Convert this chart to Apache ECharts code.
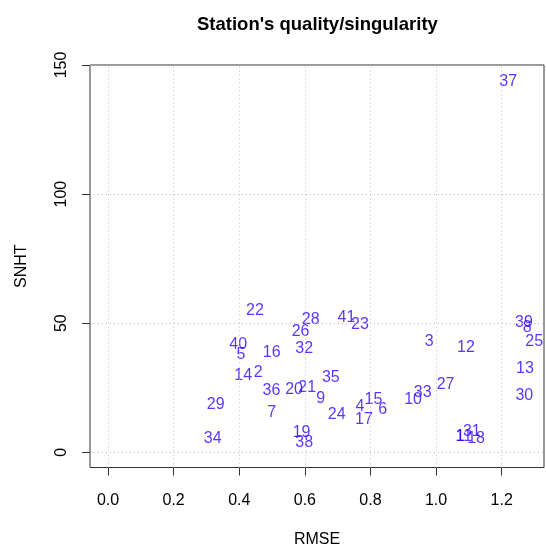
<!DOCTYPE html>
<html>
<head>
<meta charset="utf-8">
<script src="https://cdn.jsdelivr.net/npm/echarts@6/dist/echarts.min.js"></script>
<style>html,body{margin:0;padding:0;background:#fff}#c{width:546px;height:545px}</style>
</head>
<body>
<div id="c"></div>
<script>
var stations = ['1','2','3','4','5','6','7','8','9','10','11','12','13','14','15','16','17','18','19','20','21','22','23','24','25','26','27','28','29','30','31','32','33','34','35','36','37','38','39','40','41'];
var rmse = [1.073,0.458,0.979,0.768,0.405,0.837,0.499,1.278,0.648,0.930,1.085,1.091,1.271,0.412,0.809,0.499,0.780,1.122,0.590,0.567,0.607,0.448,0.768,0.697,1.299,0.587,1.029,0.618,0.328,1.269,1.109,0.598,0.959,0.319,0.679,0.498,1.220,0.598,1.268,0.397,0.727];
var snht = [5.9,30.8,42.8,17.7,37.7,16.4,15.3,48.3,20.8,20.3,5.9,40.7,32.3,29.7,20.3,38.7,12.5,5.4,7.7,24.4,25.0,54.8,49.6,14.4,42.8,46.7,26.3,51.5,18.6,21.9,8.2,40.3,23.2,5.4,29.0,23.7,143.5,3.7,50.2,41.6,52.3];
var xTicks = [0, 0.2, 0.4, 0.6, 0.8, 1.0, 1.2];
var yTicks = [0, 50, 100, 150];

var FONT = 'Liberation Sans, Arial, sans-serif';
var pts = stations.map(function (s, i) { return { name: s, value: [rmse[i], snht[i]] }; });
var gridLines = [];
xTicks.forEach(function (v) { gridLines.push({ xAxis: v }); });
yTicks.forEach(function (v) { gridLines.push({ yAxis: v }); });

var chart = echarts.init(document.getElementById('c'), null, { renderer: 'canvas' });
chart.setOption({
  animation: false,
  backgroundColor: '#ffffff',
  title: {
    text: "Station's quality/singularity",
    left: 192, top: 10,
    textStyle: { fontFamily: FONT, fontWeight: 'bold', fontSize: 18.5, color: '#000' }
  },
  grid: { left: 90, top: 65, right: 2, bottom: 77.5, show: true, borderColor: '#333', borderWidth: 1,
    backgroundColor: 'transparent', containLabel: false, outerBoundsMode: 'none' },
  xAxis: {
    type: 'value', min: -0.055, max: 1.329,
    name: 'RMSE', nameLocation: 'middle', nameGap: 64,
    nameTextStyle: { fontFamily: FONT, fontSize: 16, color: '#000' },
    axisLine: { show: false, onZero: false },
    axisTick: { show: true, inside: false, length: 8, customValues: xTicks, lineStyle: { color: '#333' } },
    axisLabel: { customValues: xTicks, margin: 25, fontFamily: FONT, fontSize: 16, color: '#000',
      formatter: function (v) { return v.toFixed(1); } },
    splitLine: { show: false }
  },
  yAxis: {
    type: 'value', min: -5.9, max: 150,
    name: 'SNHT', nameLocation: 'middle', nameGap: 60,
    nameTextStyle: { fontFamily: FONT, fontSize: 16, color: '#000' },
    axisLine: { show: false, onZero: false },
    axisTick: { show: true, inside: false, length: 8, customValues: yTicks, lineStyle: { color: '#333' } },
    axisLabel: { customValues: yTicks, rotate: 90, margin: 20, fontFamily: FONT, fontSize: 16, color: '#000' },
    splitLine: { show: false }
  },
  series: [{
    type: 'scatter',
    data: pts,
    symbolSize: 0,
    silent: true,
    label: {
      show: true, position: 'inside', formatter: '{b}',
      fontFamily: FONT, fontSize: 16, color: '#3000ff'
    },
    emphasis: { disabled: true },
    markLine: {
      silent: true, symbol: 'none', animation: false,
      label: { show: false },
      lineStyle: { type: [1, 3], color: '#bdbdbd', width: 1 },
      data: gridLines
    },
    z: 3
  }]
});
</script>
</body>
</html>
